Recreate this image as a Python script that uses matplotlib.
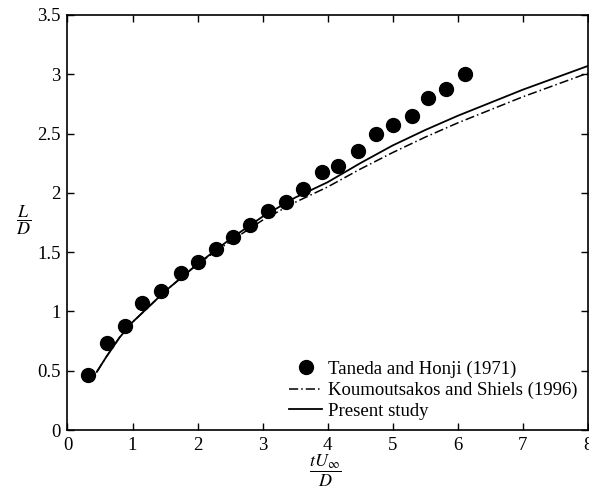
import numpy as np
import matplotlib
matplotlib.use("Agg")
import matplotlib.pyplot as plt

plt.rcParams['font.family'] = ['Liberation Serif', 'DejaVu Serif']
plt.rcParams['mathtext.fontset'] = 'stix'

# Taneda and Honji (1971) - experimental points
t_exp = [0.31, 0.61, 0.89, 1.15, 1.44, 1.74, 2.01, 2.28, 2.55, 2.81, 3.09, 3.36,
         3.62, 3.92, 4.16, 4.46, 4.74, 5.01, 5.29, 5.55, 5.82, 6.11]
L_exp = [0.46, 0.73, 0.88, 1.07, 1.17, 1.32, 1.42, 1.53, 1.63, 1.73, 1.85, 1.92,
         2.03, 2.18, 2.23, 2.35, 2.50, 2.57, 2.65, 2.80, 2.88, 3.00]

# Koumoutsakos and Shiels (1996)
t_ks = [0.45, 0.6, 0.8, 1.0, 1.25, 1.5, 2.0, 2.5, 3.0, 3.5, 4.0, 4.5,
        5.0, 5.5, 6.0, 6.5, 7.0, 7.5, 8.0]
L_ks = [0.49, 0.62, 0.78, 0.91, 1.04, 1.17, 1.40, 1.59, 1.77, 1.92, 2.05, 2.20,
        2.34, 2.47, 2.59, 2.70, 2.81, 2.91, 3.01]

# Present study
t_ps = [0.45, 0.6, 0.8, 1.0, 1.25, 1.5, 2.0, 2.5, 3.0, 3.5, 4.0, 4.5,
        5.0, 5.5, 6.0, 6.5, 7.0, 7.5, 8.0]
L_ps = [0.49, 0.62, 0.78, 0.91, 1.04, 1.17, 1.40, 1.61, 1.80, 1.96, 2.09, 2.25,
        2.40, 2.53, 2.65, 2.76, 2.87, 2.97, 3.07]

fig = plt.figure(figsize=(5.89, 4.90), dpi=100)
ax = fig.add_axes([0.1146, 0.1224, 0.8834, 0.847])

ax.plot(t_exp, L_exp, 'o', color='black', ms=10, label="Taneda and Honji (1971)")
ax.plot(t_ks, L_ks, color='black', lw=1.1, dashes=(6, 2, 1, 2),
        label="Koumoutsakos and Shiels (1996)")
ax.plot(t_ps, L_ps, color='black', lw=1.3, label="Present study")

ax.set_xlim(0, 8)
ax.set_ylim(0, 3.5)
ax.set_xticks(np.arange(0, 9, 1))
ax.set_yticks(np.arange(0, 3.6, 0.5))
ax.set_yticklabels(["0", "0.5", "1", "1.5", "2", "2.5", "3", "3.5"])
ax.tick_params(direction='in', top=True, right=True, length=5, width=1,
               labelsize=13.5, pad=5)
for s in ax.spines.values():
    s.set_linewidth(1.2)

ax.set_ylabel(r"$\dfrac{L}{D}$", rotation=0, fontsize=13, va='center', ha='center')
ax.yaxis.set_label_coords(-0.085, 0.506)
ax.set_xlabel(r"$\dfrac{tU_\infty}{D}$", fontsize=13, va='center', ha='center')
ax.xaxis.set_label_coords(0.495, -0.098)

ax.legend(loc='lower right', frameon=False, fontsize=13.5, handlelength=1.75,
          handletextpad=0.3, labelspacing=0.2, borderaxespad=0.0,
          bbox_to_anchor=(0.994, 0.006))

plt.savefig("out.png", dpi=100)
